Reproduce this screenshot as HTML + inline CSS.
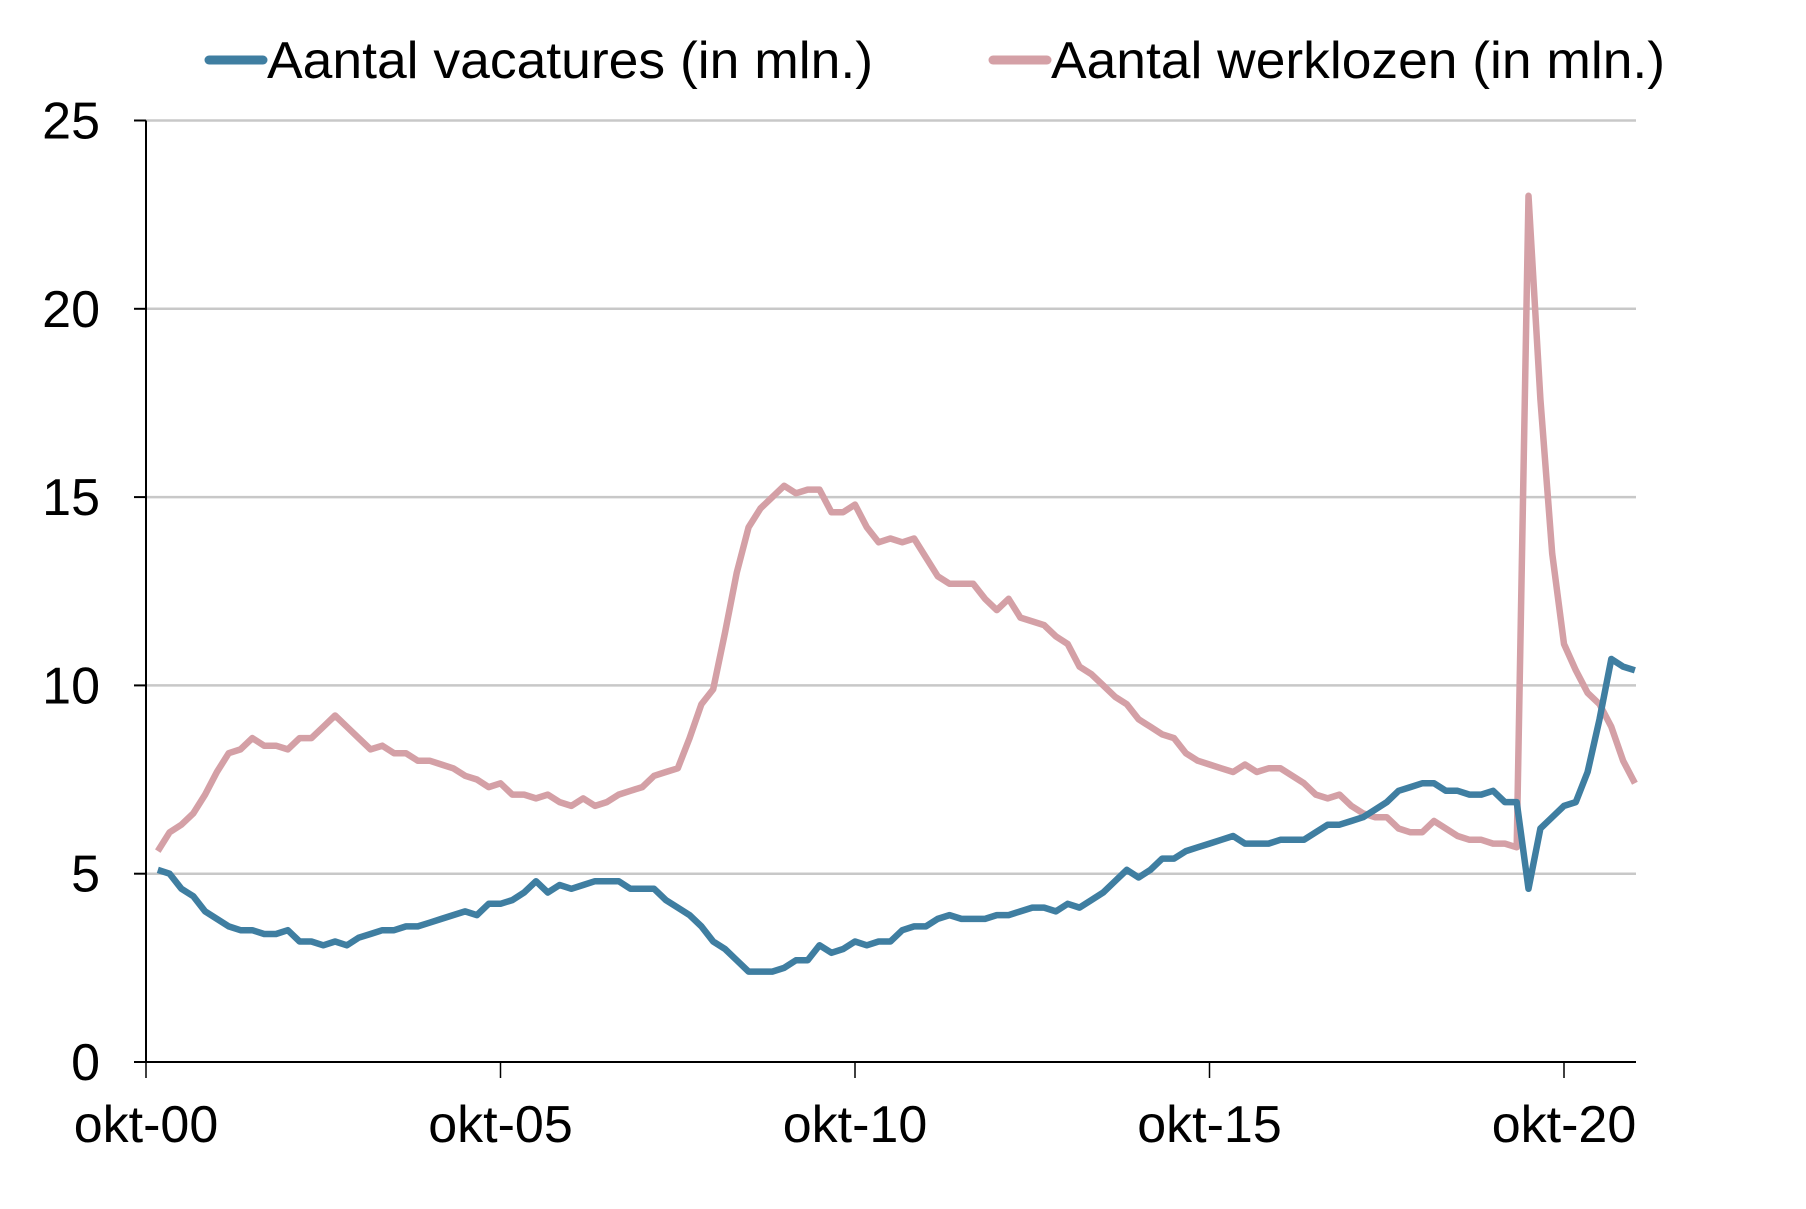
<!DOCTYPE html>
<html><head><meta charset="utf-8"><style>
html,body{margin:0;padding:0;background:#fff;}
svg{display:block;font-family:"Liberation Sans",Arial,sans-serif;}
</style></head><body>
<svg id="chart" width="1806" height="1209" viewBox="0 0 1806 1209">
<g id="grid"></g>
<g id="axes"></g>
<g id="series"></g>
<g id="legend">
  <g>
    <line x1="209" y1="60" x2="263" y2="60" stroke="#3f7ea1" stroke-width="9" stroke-linecap="round"/>
    <text x="267" y="78" font-size="52" fill="#000" textLength="606" lengthAdjust="spacingAndGlyphs">Aantal vacatures (in mln.)</text>
  </g>
  <g>
    <line x1="993" y1="60" x2="1047" y2="60" stroke="#d4a0a6" stroke-width="9" stroke-linecap="round"/>
    <text x="1051" y="78" font-size="52" fill="#000" textLength="614" lengthAdjust="spacingAndGlyphs">Aantal werklozen (in mln.)</text>
  </g>
</g>
</svg>
<script>
const yTicks = [0, 5, 10, 15, 20, 25];
const xTickLabels = ["okt-00", "okt-05", "okt-10", "okt-15", "okt-20"];
const xTickMonths = [0, 60, 120, 180, 240];
const startMonth = 2;
const stepMonths = 2;
const werklozen = [5.6,6.1,6.3,6.6,7.1,7.7,8.2,8.3,8.6,8.4,8.4,8.3,8.6,8.6,8.9,9.2,8.9,8.6,8.3,8.4,8.2,8.2,8.0,8.0,7.9,7.8,7.6,7.5,7.3,7.4,7.1,7.1,7.0,7.1,6.9,6.8,7.0,6.8,6.9,7.1,7.2,7.3,7.6,7.7,7.8,8.6,9.5,9.9,11.4,13.0,14.2,14.7,15.0,15.3,15.1,15.2,15.2,14.6,14.6,14.8,14.2,13.8,13.9,13.8,13.9,13.4,12.9,12.7,12.7,12.7,12.3,12.0,12.3,11.8,11.7,11.6,11.3,11.1,10.5,10.3,10.0,9.7,9.5,9.1,8.9,8.7,8.6,8.2,8.0,7.9,7.8,7.7,7.9,7.7,7.8,7.8,7.6,7.4,7.1,7.0,7.1,6.8,6.6,6.5,6.5,6.2,6.1,6.1,6.4,6.2,6.0,5.9,5.9,5.8,5.8,5.7,23.0,17.6,13.5,11.1,10.4,9.8,9.5,8.9,8.0,7.4];
const vacatures = [5.1,5.0,4.6,4.4,4.0,3.8,3.6,3.5,3.5,3.4,3.4,3.5,3.2,3.2,3.1,3.2,3.1,3.3,3.4,3.5,3.5,3.6,3.6,3.7,3.8,3.9,4.0,3.9,4.2,4.2,4.3,4.5,4.8,4.5,4.7,4.6,4.7,4.8,4.8,4.8,4.6,4.6,4.6,4.3,4.1,3.9,3.6,3.2,3.0,2.7,2.4,2.4,2.4,2.5,2.7,2.7,3.1,2.9,3.0,3.2,3.1,3.2,3.2,3.5,3.6,3.6,3.8,3.9,3.8,3.8,3.8,3.9,3.9,4.0,4.1,4.1,4.0,4.2,4.1,4.3,4.5,4.8,5.1,4.9,5.1,5.4,5.4,5.6,5.7,5.8,5.9,6.0,5.8,5.8,5.8,5.9,5.9,5.9,6.1,6.3,6.3,6.4,6.5,6.7,6.9,7.2,7.3,7.4,7.4,7.2,7.2,7.1,7.1,7.2,6.9,6.9,4.6,6.2,6.5,6.8,6.9,7.7,9.1,10.7,10.5,10.4];

const X0 = 146, PX_PER_MONTH = 354.5/60, PLOT_RIGHT = 1636;
const Y0 = 1062, PX_PER_UNIT = (1062-120.5)/25;
const xScale = m => X0 + m*PX_PER_MONTH;
const yScale = v => Y0 - v*PX_PER_UNIT;
const NS = "http://www.w3.org/2000/svg";
function mk(tag, attrs, parent){const e=document.createElementNS(NS,tag);for(const k in attrs)e.setAttribute(k,attrs[k]);parent.appendChild(e);return e;}

const grid = document.getElementById('grid');
const axes = document.getElementById('axes');
yTicks.forEach(t=>{
  const y = yScale(t);
  if (t>0){
    const g = mk('line',{x1:X0,x2:PLOT_RIGHT,y1:y,y2:y,stroke:'#c8c8c8','stroke-width':2.5},grid);
    
    
  }
  const tk = mk('line',{x1:X0-12,x2:X0,y1:y,y2:y,stroke:'#000','stroke-width':2},axes);
  
  
  const lb = mk('text',{x:100,y:y+18,'text-anchor':'end','font-size':52,fill:'#000'},axes);
  lb.textContent = t;
  
  
});
const ya = mk('line',{x1:X0,x2:X0,y1:yScale(25),y2:Y0+1,stroke:'#000','stroke-width':2},axes);


const xa = mk('line',{x1:X0-12,x2:PLOT_RIGHT,y1:Y0,y2:Y0,stroke:'#000','stroke-width':2},axes);


xTickMonths.forEach((m,i)=>{
  const x = xScale(m);
  const tk = mk('line',{x1:x,x2:x,y1:Y0,y2:Y0+16,stroke:'#000','stroke-width':1.5},axes);
  
  
  const lb = mk('text',{x:x,y:1142,'text-anchor':'middle','font-size':52,fill:'#000'},axes);
  lb.textContent = xTickLabels[i];
  
  
});

const series = document.getElementById('series');
function drawLine(vals,color,name){
  const pts = vals.map((v,i)=>xScale(startMonth+i*stepMonths).toFixed(1)+','+yScale(v).toFixed(1)).join(' ');
  const p = mk('polyline',{points:pts,fill:'none',stroke:color,'stroke-width':6.5,'stroke-linejoin':'round'},series);
  
  
}
drawLine(werklozen,'#d4a0a6','line-werklozen');
drawLine(vacatures,'#3f7ea1','line-vacatures');
</script>
</body></html>
